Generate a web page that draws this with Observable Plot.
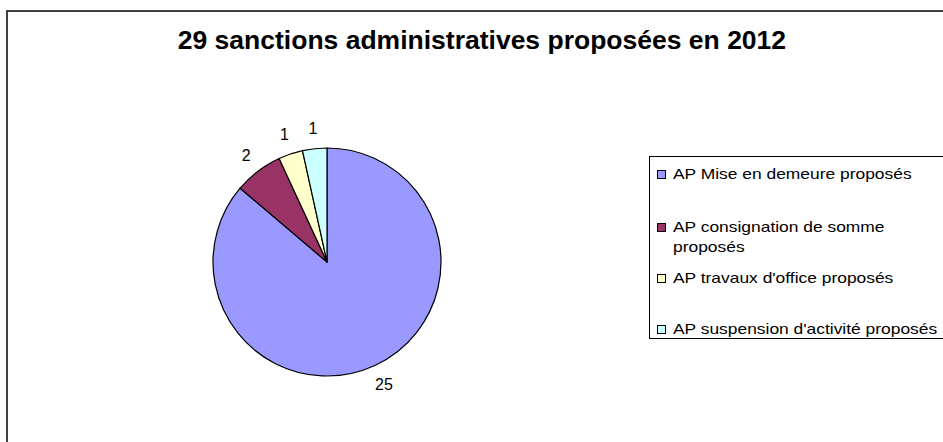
<!DOCTYPE html>
<html>
<head>
<meta charset="utf-8">
<script src="https://cdn.jsdelivr.net/npm/d3@7"></script>
<script src="https://cdn.jsdelivr.net/npm/@observablehq/plot@0.6"></script>
<style>
  html, body { margin: 0; padding: 0; background: #fff; }
  #chart { position: relative; width: 943px; height: 442px; overflow: hidden; font-family: "Liberation Sans", Arial, sans-serif; }
  #frame { position: absolute; left: 6px; top: 10px; width: 980px; height: 480px; border: 2px solid #404040; box-sizing: border-box; }
  #title { position: absolute; left: 0; top: 26px; width: 963px; text-align: center; font-weight: bold; font-size: 25px; color: #000; }
  #title span { display: inline-block; transform: scaleX(1.06); }
  #plot { position: absolute; left: 0; top: 0; }
  #legend { position: absolute; left: 649px; top: 156px; width: 320px; height: 183px; border: 1px solid #000; box-sizing: border-box; background: #fff; }
  .item { position: absolute; left: 23px; font-size: 15px; line-height: 20px; color: #000; transform: scaleX(1.16); transform-origin: 0 0; white-space: nowrap; }
  .sw { position: absolute; left: 7px; width: 9px; height: 9px; border: 1px solid #000; box-sizing: border-box; }
</style>
</head>
<body>
<div id="chart">
  <div id="frame"></div>
  <div id="plot"></div>
  <div id="title"><span></span></div>
  <div id="legend"></div>
</div>
<script>
const title = "29 sanctions administratives proposées en 2012";
const categories = [
  "AP Mise en demeure proposés",
  "AP consignation de somme proposés",
  "AP travaux d'office proposés",
  "AP suspension d'activité proposés"
];
const values = [25, 2, 1, 1];
const colors = ["#9999FF", "#993366", "#FFFFCC", "#CCFFFF"];
const legendLines = [
  ["AP Mise en demeure proposés"],
  ["AP consignation de somme", "proposés"],
  ["AP travaux d'office proposés"],
  ["AP suspension d'activité proposés"]
];

document.querySelector("#title span").textContent = title;

const table = categories.map((c, i) => ({category: c, value: values[i], color: colors[i]}));
const arcs = d3.pie().sort(null).value(d => d.value)(table);
const labelR = 1.18;
const labels = arcs.map(a => {
  const mid = (a.startAngle + a.endAngle) / 2;
  return {label: String(a.data.value), x: labelR * Math.sin(mid), y: labelR * Math.cos(mid)};
});

const pieMark = (index, scales) => {
  const cx = scales.x(0), cy = scales.y(0);
  const r = scales.x(1) - scales.x(0);
  const g = d3.create("svg:g").attr("transform", `translate(${cx},${cy})`);
  const arc = d3.arc().innerRadius(0).outerRadius(r);
  g.selectAll("path").data(arcs).join("path")
    .attr("d", arc)
    .attr("fill", d => d.data.color)
    .attr("stroke", "#000")
    .attr("stroke-width", 1.2)
    .attr("stroke-linejoin", "round");
  return g.node();
};

const plot = Plot.plot({
  width: 943,
  height: 442,
  margin: 0,
  style: {background: "transparent", fontFamily: "Liberation Sans, Arial, sans-serif"},
  x: {domain: [-1, 1], range: [213, 441], axis: null},
  y: {domain: [-1, 1], range: [376, 148], axis: null},
  marks: [
    pieMark,
    Plot.text(labels, {x: "x", y: "y", text: "label", fontSize: 16, fill: "#000", textAnchor: "middle"})
  ]
});
document.getElementById("plot").appendChild(plot);

const legend = document.getElementById("legend");
const rowTops = [7, 60, 111, 162];
legendLines.forEach((lines, i) => {
  const sw = document.createElement("div");
  sw.className = "sw";
  sw.style.top = (rowTops[i] + 6) + "px";
  sw.style.background = colors[i];
  legend.appendChild(sw);
  const t = document.createElement("div");
  t.className = "item";
  t.style.top = rowTops[i] + "px";
  t.innerHTML = lines.map(s => s.replace(/&/g, "&amp;").replace(/</g, "&lt;")).join("<br>");
  legend.appendChild(t);
});
</script>
</body>
</html>
